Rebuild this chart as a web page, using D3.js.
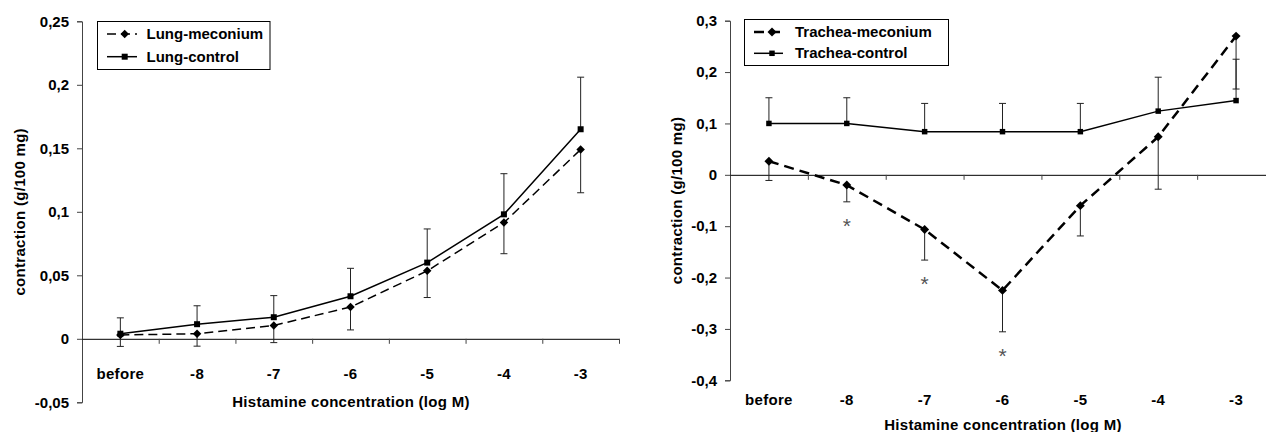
<!DOCTYPE html>
<html>
<head>
<meta charset="utf-8">
<script src="https://cdn.jsdelivr.net/npm/d3@7"></script>
<style>
  body { margin: 0; background: #fff; }
  svg { display: block; font-family: "Liberation Sans", Arial, sans-serif; }
  .lbl { font-weight: bold; font-size: 15px; fill: #000; }
</style>
</head>
<body>
<svg id="chart" width="1266" height="432"></svg>
<script>
// categories on the x axis
var categories = ["before", "-8", "-7", "-6", "-5", "-4", "-3"]

// lung (left panel)
var lungMeconium    = [0.003, 0.004, 0.0105, 0.025, 0.0535, 0.0915, 0.149]
var lungMeconiumErr = [0.009, 0.0098, 0.0135, 0.018, 0.021, 0.0245, 0.034]
var lungControl     = [0.004, 0.0115, 0.017, 0.0335, 0.060, 0.098, 0.165]
var lungControlErr  = [0.0125, 0.0145, 0.017, 0.022, 0.0265, 0.032, 0.041]
var lungTicks = [-0.05, 0, 0.05, 0.1, 0.15, 0.2, 0.25]

// trachea (right panel)
var tracheaMeconium    = [0.0265, -0.020, -0.1065, -0.225, -0.060, 0.074, 0.270]
var tracheaMeconiumErr = [0.0375, 0.0326, 0.0595, 0.0806, 0.059, 0.102, 0.103]
var tracheaControl     = [0.100, 0.100, 0.084, 0.084, 0.084, 0.124, 0.1445]
var tracheaControlErr  = [0.050, 0.050, 0.055, 0.055, 0.055, 0.066, 0.0805]
var tracheaSignificant = [false, true, true, true, false, false, false]
var tracheaTicks = [-0.4, -0.3, -0.2, -0.1, 0, 0.1, 0.2, 0.3]

var svg = d3.select('#chart')
var fmt = function(v) { return String(v).replace('.', ',') }

function diamond(size) {
    return d3.symbol().type(d3.symbolSquare).size(size)
}

function drawPanel(p) {
    var g = svg.append('g')
    var x = d3.scaleBand().domain(categories).range([p.left, p.right])
    var xi = d3.scaleLinear().domain([0, categories.length]).range([p.left, p.right])
    var y = d3.scaleLinear().domain(p.domain).range([p.bottom, p.top])

    // y axis
    var ya = g.append('g')
        .attr('transform', 'translate(' + p.left + ',0)')
        .call(d3.axisLeft(y).tickValues(p.ticks).tickSize(5).tickPadding(8).tickFormat(fmt))
    ya.select('.domain').attr('stroke', '#444')
    ya.selectAll('.tick line').attr('stroke', '#444')
    ya.selectAll('text').attr('class', 'lbl').attr('fill', '#000').attr('font-family', null).attr('font-size', null)

    // x axis at zero, tick marks between categories
    var xa = g.append('g')
        .attr('transform', 'translate(0,' + y(0) + ')')
        .call(d3.axisBottom(xi).tickValues(d3.range(1, categories.length + 1)).tickSize(5).tickSizeOuter(0).tickFormat(''))
    xa.select('.domain').attr('stroke', '#000')
    xa.selectAll('.tick line').attr('stroke', '#444')

    // category labels
    g.selectAll('text.cat')
        .data(categories)
        .enter()
        .append('text')
        .attr('class', 'lbl cat')
        .attr('x', function(d) { return x(d) + x.bandwidth() / 2 })
        .attr('y', p.catY)
        .attr('text-anchor', 'middle')
        .style('letter-spacing', '0.3px')
        .text(function(d) { return d })

    // axis titles
    g.append('text')
        .attr('class', 'lbl')
        .attr('x', p.xTitleX)
        .attr('y', p.xTitleY)
        .attr('text-anchor', 'middle')
        .style('letter-spacing', '0.3px')
        .text('Histamine concentration (log M)')
    g.append('text')
        .attr('class', 'lbl')
        .attr('transform', 'translate(' + p.yTitleX + ',' + (p.top + p.bottom) / 2 + ') rotate(-90)')
        .attr('text-anchor', 'middle')
        .style('letter-spacing', '0.3px')
        .text('contraction (g/100 mg)')

    var cx = function(d, i) { return x(categories[i]) + x.bandwidth() / 2 }

    // error bars: control upward, meconium downward
    function errBars(vals, errs, dir) {
        var eb = g.append('g').attr('stroke', '#222').attr('stroke-width', 1)
        vals.forEach(function(v, i) {
            var xx = cx(v, i), y1 = y(v), y2 = y(v + dir * errs[i])
            eb.append('line').attr('x1', xx).attr('x2', xx).attr('y1', y1).attr('y2', y2)
            eb.append('line').attr('x1', xx - 3.5).attr('x2', xx + 3.5).attr('y1', y2).attr('y2', y2)
        })
    }
    errBars(p.control, p.controlErr, 1)
    errBars(p.meconium, p.meconiumErr, -1)

    var line = d3.line().x(cx).y(function(d) { return y(d) })

    g.append('path')
        .attr('d', line(p.control))
        .attr('fill', 'none')
        .attr('stroke', '#000')
        .attr('stroke-width', 1.5)
    g.append('path')
        .attr('d', line(p.meconium))
        .attr('fill', 'none')
        .attr('stroke', '#000')
        .attr('stroke-width', p.dashWidth)
        .attr('stroke-dasharray', p.dash)

    g.selectAll('path.sq')
        .data(p.control)
        .enter()
        .append('path')
        .attr('class', 'sq')
        .attr('d', d3.symbol().type(d3.symbolSquare).size(p.sqSize))
        .attr('transform', function(d, i) { return 'translate(' + cx(d, i) + ',' + y(d) + ')' })
    g.selectAll('path.dm')
        .data(p.meconium)
        .enter()
        .append('path')
        .attr('class', 'dm')
        .attr('d', diamond(p.dmSize))
        .attr('transform', function(d, i) { return 'translate(' + cx(d, i) + ',' + y(d) + ') rotate(45)' })

    // significance marks
    if (p.sig) {
        p.meconium.forEach(function(v, i) {
            if (!p.sig[i]) return
            g.append('text')
                .attr('x', cx(v, i))
                .attr('y', y(v - p.meconiumErr[i]) + 31)
                .attr('text-anchor', 'middle')
                .attr('font-size', 21)
                .attr('fill', '#555')
                .text('*')
        })
    }

    // legend
    var L = p.legend
    g.append('rect')
        .attr('x', L.x).attr('y', L.y).attr('width', L.w).attr('height', L.h)
        .attr('fill', '#fff').attr('stroke', '#000').attr('stroke-width', 1)
    var rows = [
        { name: p.names[0], dash: p.dash, width: p.dashWidth, sym: diamond(p.dmSize), rot: ' rotate(45)', y: L.row1 },
        { name: p.names[1], dash: null, width: 1.5, sym: d3.symbol().type(d3.symbolSquare).size(p.sqSize), rot: '', y: L.row2 }
    ]
    rows.forEach(function(r) {
        g.append('line')
            .attr('x1', L.lx1).attr('x2', L.lx2).attr('y1', r.y).attr('y2', r.y)
            .attr('stroke', '#000').attr('stroke-width', r.width)
            .attr('stroke-dasharray', r.dash)
        g.append('path')
            .attr('d', r.sym)
            .attr('transform', 'translate(' + L.mx + ',' + r.y + ')' + r.rot)
        g.append('text')
            .attr('class', 'lbl')
            .attr('x', L.tx)
            .attr('y', r.y + 5)
            .text(r.name)
    })
}

drawPanel({
    left: 82, right: 619, top: 21.3, bottom: 402.3,
    domain: [-0.05, 0.25], ticks: lungTicks,
    catY: 378.5, xTitleX: 351, xTitleY: 407, yTitleX: 25,
    control: lungControl, controlErr: lungControlErr,
    meconium: lungMeconium, meconiumErr: lungMeconiumErr,
    dash: '9,5', dashWidth: 1.5, sqSize: 36, dmSize: 36,
    names: ['Lung-meconium', 'Lung-control'],
    legend: { x: 97.5, y: 21.5, w: 172.5, h: 48, row1: 34, row2: 56.7, lx1: 107, lx2: 137, mx: 124.7, tx: 146.5 }
})

drawPanel({
    left: 730, right: 1275, top: 20.7, bottom: 380.3,
    domain: [-0.4, 0.3], ticks: tracheaTicks,
    catY: 404.5, xTitleX: 1003, xTitleY: 429.5, yTitleX: 682,
    control: tracheaControl, controlErr: tracheaControlErr,
    meconium: tracheaMeconium, meconiumErr: tracheaMeconiumErr,
    sig: tracheaSignificant,
    dash: '10,6', dashWidth: 2.5, sqSize: 30, dmSize: 40,
    names: ['Trachea-meconium', 'Trachea-control'],
    legend: { x: 744.5, y: 19.5, w: 204, h: 46, row1: 32, row2: 53.3, lx1: 754, lx2: 783, mx: 772, tx: 795 }
})
</script>
</body>
</html>
